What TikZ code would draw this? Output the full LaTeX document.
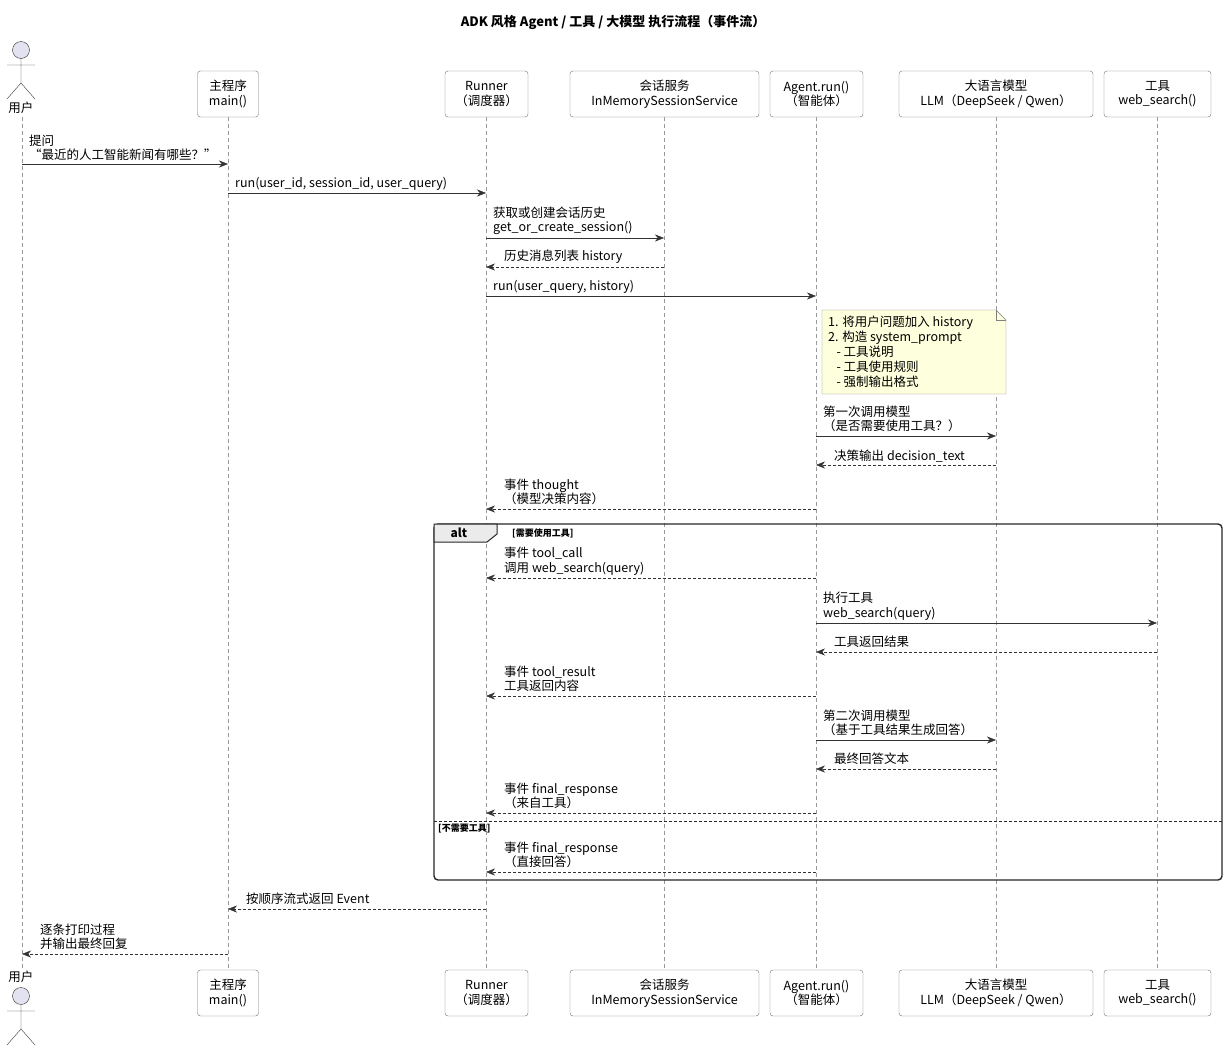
\documentclass[tikz,border=0pt]{standalone}
\usepackage{fontspec}
\setmainfont{Noto Sans CJK SC}
\usetikzlibrary{arrows.meta}
\begin{document}
\begin{tikzpicture}[x=1pt,y=-1pt,
  every node/.style={font=\fontsize{12.5}{14.5}\selectfont,inner sep=0pt},
  box/.style={draw=black!55,fill=white,rounded corners=3pt,minimum height=46pt,align=center},
  life/.style={draw=black!40,dash pattern=on 4pt off 3pt},
  msg/.style={draw=black!80,-{Stealth[length=9pt,width=7pt]}},
  ret/.style={msg,dash pattern=on 3pt off 2pt},
  lbl/.style={anchor=west,align=left}]
\useasboundingbox (0,0) rectangle (1227,1050);
\node[font=\fontsize{13}{15}\selectfont\bfseries] (title) at (613,22) {ADK 风格 Agent / 工具 / 大模型 执行流程（事件流）};
% lifelines
\foreach \n/\x in {u/22,m/228,r/486,s/664,a/816,l/996,t/1157}{
  \coordinate (\n0) at (\x,117); \coordinate (\n1) at (\x,970);
  \draw[life] (\n0) -- (\n1);}
% boxes
\foreach \p/\y in {top/94,bot/993}{
 \node[box,minimum width=61pt] (m\p) at (228,\y) {主程序\\main()};
 \node[box,minimum width=83pt] (r\p) at (486.5,\y) {Runner\\（调度器）};
 \node[box,minimum width=189pt] (s\p) at (664.5,\y) {会话服务\\InMemorySessionService};
 \node[box,minimum width=93pt] (a\p) at (816.5,\y) {Agent.run()\\（智能体）};
 \node[box,minimum width=194pt] (l\p) at (996,\y) {大语言模型\\LLM（DeepSeek / Qwen）};
 \node[box,minimum width=107pt] (t\p) at (1157.5,\y) {工具\\web\_search()};
}
% actors
\tikzset{actor/.pic={\draw[black!80,fill={rgb,255:red,226;green,226;blue,240}] (0,0) circle (8.5);
 \draw[black!80] (0,8.5)--(0,33) (-14,15)--(14,15) (0,33)--(-14,49) (0,33)--(14,49);}}
\pic at (21,50) {actor};
\node (utop) at (21,108) {用户};
\node (ubot) at (21,977) {用户};
\pic at (21,996) {actor};
% alt frame
\draw[black!85,line width=1.4pt,rounded corners=4pt] (434,524) rectangle (1222,880);
\draw[black!85,line width=1pt,fill=black!8] (434,524) -- (497,524) -- (497,534) -- (487,542) -- (434,542) -- cycle;
\node[font=\fontsize{12}{14}\selectfont\bfseries] (alt) at (459,533) {alt};
\node[lbl,font=\fontsize{9}{11}\selectfont\bfseries] (g1) at (512,533) {[需要使用工具]};
\draw[black!85,dash pattern=on 3pt off 2pt] (434,821) -- (1222,821);
\node[lbl,font=\fontsize{9}{11}\selectfont\bfseries] (g2) at (438,829) {[不需要工具]};
% note
\draw[draw=black!50,fill={rgb,255:red,254;green,255;blue,221}] (822,310) -- (996,310) -- (1006,320) -- (1006,394) -- (822,394) -- cycle;
\draw[black!50] (996,310) -- (996,320) -- (1006,320);
\node[lbl,font=\fontsize{12.5}{15}\selectfont] (note) at (828,352) {1. 将用户问题加入 history\\2. 构造 system\_prompt\\\ \ \ - 工具说明\\\ \ \ - 工具使用规则\\\ \ \ - 强制输出格式};
% messages
\def\M#1#2#3#4{\coordinate (p#4a) at (#1,#3); \coordinate (p#4b) at (#2,#3);}
\M{22}{228}{164}{1}\draw[msg] (p1a)--(p1b); \node[lbl] at (29,148) {提问\\“最近的人工智能新闻有哪些？”};
\M{228}{486}{193}{2}\draw[msg] (p2a)--(p2b); \node[lbl] at (235,184) {run(user\_id, session\_id, user\_query)};
\M{486}{664}{238}{3}\draw[msg] (p3a)--(p3b); \node[lbl] at (493,221) {获取或创建会话历史\\get\_or\_create\_session()};
\M{664}{486}{267}{4}\draw[ret] (p4a)--(p4b); \node[lbl] at (504,257) {历史消息列表 history};
\M{486}{816}{296}{5}\draw[msg] (p5a)--(p5b); \node[lbl] at (493,287) {run(user\_query, history)};
\M{816}{996}{436}{6}\draw[msg] (p6a)--(p6b); \node[lbl] at (823,419) {第一次调用模型\\（是否需要使用工具？）};
\M{996}{816}{465}{7}\draw[ret] (p7a)--(p7b); \node[lbl] at (834,456) {决策输出 decision\_text};
\M{816}{486}{509}{8}\draw[ret] (p8a)--(p8b); \node[lbl] at (504,492) {事件 thought\\（模型决策内容）};
\M{816}{486}{578}{9}\draw[ret] (p9a)--(p9b); \node[lbl] at (504,561) {事件 tool\_call\\调用 web\_search(query)};
\M{816}{1157}{623}{10}\draw[msg] (p10a)--(p10b); \node[lbl] at (823,606) {执行工具\\web\_search(query)};
\M{1157}{816}{652}{11}\draw[ret] (p11a)--(p11b); \node[lbl] at (834,642) {工具返回结果};
\M{816}{486}{696}{12}\draw[ret] (p12a)--(p12b); \node[lbl] at (504,679) {事件 tool\_result\\工具返回内容};
\M{816}{996}{740}{13}\draw[msg] (p13a)--(p13b); \node[lbl] at (823,723) {第二次调用模型\\（基于工具结果生成回答）};
\M{996}{816}{769}{14}\draw[ret] (p14a)--(p14b); \node[lbl] at (834,759) {最终回答文本};
\M{816}{486}{813}{15}\draw[ret] (p15a)--(p15b); \node[lbl] at (504,796) {事件 final\_response\\（来自工具）};
\M{816}{486}{872}{16}\draw[ret] (p16a)--(p16b); \node[lbl] at (504,855) {事件 final\_response\\（直接回答）};
\M{486}{228}{909}{17}\draw[ret] (p17a)--(p17b); \node[lbl] at (246,899) {按顺序流式返回 Event};
\M{228}{22}{954}{18}\draw[ret] (p18a)--(p18b); \node[lbl] at (40,937) {逐条打印过程\\并输出最终回复};
\end{tikzpicture}
\end{document}
